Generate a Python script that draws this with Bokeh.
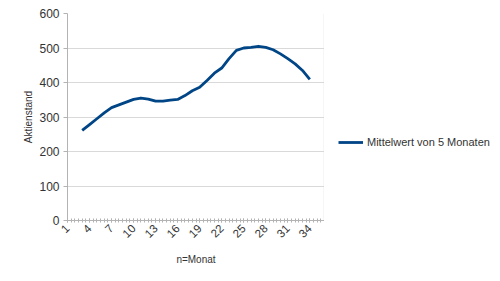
import math
from bokeh.plotting import figure
from bokeh.layouts import row
from bokeh.models import Range1d, FixedTicker, Legend, LegendItem
from bokeh.embed import file_html
from bokeh.resources import INLINE

months = list(range(3, 35))
moving_avg = [261, 278, 295, 312, 327, 335, 343, 351, 355, 352, 346, 346, 349, 351,
              362, 376, 386, 406, 427, 442, 469, 493, 500, 502, 505, 502, 495, 483,
              469, 454, 435, 409]
x_tick_labels = list(range(1, 35, 3))
y_ticks = [0, 100, 200, 300, 400, 500, 600]
series_name = "Mittelwert von 5 Monaten"

FONT = "Liberation Sans"
GRID = "#d9d9d9"
AXIS = "#b3b3b3"
TXT = "#333333"
LINE = "#004586"

p = figure(width=324, height=281, output_backend="svg", toolbar_location=None,
           x_range=Range1d(1, 36), y_range=Range1d(0, 600),
           min_border_left=67, min_border_right=0, min_border_top=13, min_border_bottom=61)
p.outline_line_color = None
p.background_fill_color = "white"
p.border_fill_color = "white"

r = p.line(months, moving_avg, line_color=LINE, line_width=2.8, line_join="round")

# right edge line
p.line([36, 36], [0, 600], line_color=GRID, line_width=1.5)

p.xgrid.grid_line_color = None
p.ygrid.grid_line_color = GRID
p.ygrid.ticker = FixedTicker(ticks=y_ticks)

xa = p.xaxis[0]
xa.ticker = FixedTicker(ticks=x_tick_labels, minor_ticks=[1 + 0.5 * i for i in range(71)])
xa.major_label_orientation = math.pi / 4
xa.axis_line_color = AXIS
xa.major_tick_line_color = AXIS
xa.minor_tick_line_color = AXIS
xa.major_tick_in = 2
xa.major_tick_out = 2
xa.minor_tick_in = 2
xa.minor_tick_out = 2
xa.major_label_text_font = FONT
xa.major_label_text_font_size = "11.5px"
xa.major_label_text_color = TXT
xa.major_label_standoff = 4
xa.axis_label = "n=Monat"
xa.axis_label_text_font = FONT
xa.axis_label_text_font_size = "10px"
xa.axis_label_text_font_style = "normal"
xa.axis_label_text_color = TXT
xa.axis_label_standoff = 10

ya = p.yaxis[0]
ya.ticker = FixedTicker(ticks=y_ticks, minor_ticks=[])
ya.axis_line_color = AXIS
ya.major_tick_line_color = AXIS
ya.major_tick_in = 0
ya.major_tick_out = 4
ya.minor_tick_line_color = None
ya.major_label_text_font = FONT
ya.major_label_text_font_size = "12px"
ya.major_label_text_color = TXT
ya.major_label_standoff = 4
ya.axis_label = "Aktienstand"
ya.axis_label_text_font = FONT
ya.axis_label_text_font_size = "10px"
ya.axis_label_text_font_style = "normal"
ya.axis_label_text_color = TXT
ya.axis_label_standoff = 2

# legend panel
p2 = figure(width=176, height=281, output_backend="svg", toolbar_location=None,
            x_range=Range1d(0, 1), y_range=Range1d(0, 1),
            x_axis_type=None, y_axis_type=None,
            min_border_left=0, min_border_right=0, min_border_top=0, min_border_bottom=0)
p2.outline_line_color = None
p2.xgrid.visible = False
p2.ygrid.visible = False
dummy = p2.line([5, 6], [5, 6], line_color=LINE, line_width=2.8)

legend = Legend(items=[LegendItem(label=series_name, renderers=[dummy])],
                location=(14, 68))
legend.border_line_color = None
legend.background_fill_alpha = 0
legend.label_text_font = FONT
legend.label_text_font_size = "11px"
legend.label_text_color = TXT
legend.glyph_width = 25
legend.label_standoff = 4
legend.padding = 4
legend.margin = 0
p2.add_layout(legend, "center")

layout = row(p, p2, spacing=0)
open("out.html", "w").write(file_html(layout, INLINE))
